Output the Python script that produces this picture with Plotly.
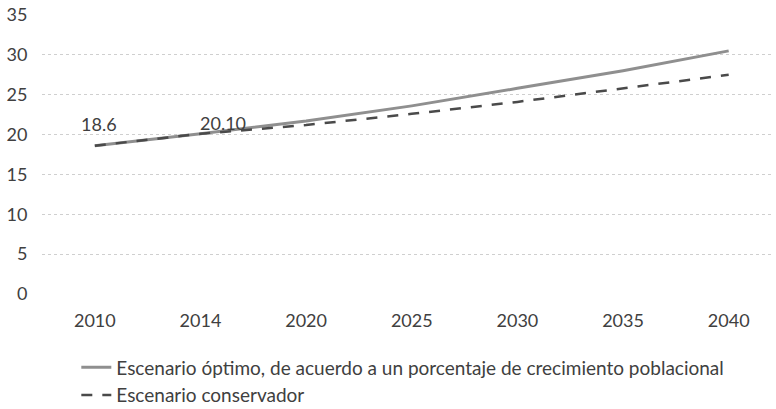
import plotly.graph_objects as go

years = ["2010", "2014", "2020", "2025", "2030", "2035", "2040"]
optimo = [18.6, 20.1, 21.7, 23.6, 25.8, 28.0, 30.5]
conservador = [18.6, 20.1, 21.2, 22.6, 24.1, 25.8, 27.5]
label_idx = [0, 1]
label_vals = [18.6, 20.1]
label_texts = ["18.6", "20.10"]
y_ticks = [0, 5, 10, 15, 20, 25, 30, 35]

name_opt = "Escenario óptimo, de acuerdo a un porcentaje de crecimiento poblacional"
name_con = "Escenario conservador"

FONT = "Lato"
TXT = "#404040"

fig = go.Figure()
fig.add_trace(go.Scatter(
    x=years, y=optimo, mode="lines", name=name_opt, legendgroup="a",
    line=dict(color="#8f8f8f", width=3),
))
fig.add_trace(go.Scatter(
    x=years, y=conservador, mode="lines", name=name_con, legendgroup="b",
    line=dict(color="#4a4a4a", width=2.5, dash="11px,10px"),
))

shifts = [(4, 22), (23, 11)]
for xi, yv, txt, (dx, dy) in zip(label_idx, label_vals, label_texts, shifts):
    fig.add_annotation(x=xi, y=yv, xref="x", yref="y", text=txt, showarrow=False,
                       xshift=dx, yshift=dy,
                       font=dict(family=FONT, size=18, color=TXT))

fig.update_layout(
    width=776, height=409,
    margin=dict(l=42, r=4, t=15, b=115, autoexpand=False),
    paper_bgcolor="white", plot_bgcolor="white",
    font=dict(family=FONT, size=18, color=TXT),
    showlegend=True,
    legend=dict(
        orientation="v",
        x=0.047, xanchor="left", y=-0.195, yanchor="top",
        font=dict(family=FONT, size=19, color=TXT),
        tracegroupgap=0, itemwidth=30,
        bgcolor="rgba(0,0,0,0)",
    ),
    xaxis=dict(
        type="category", range=[-0.5, 6.41],
        showgrid=False, zeroline=False, showline=False,
        ticks="outside", ticklen=10, tickcolor="rgba(0,0,0,0)",
        tickangle=0,
        tickfont=dict(family=FONT, size=18, color=TXT),
    ),
    yaxis=dict(
        range=[0, 35], tickvals=y_ticks,
        showgrid=True, gridcolor="#cfcfcf", griddash="dot", gridwidth=1,
        zeroline=False, showline=False,
        ticks="outside", ticklen=10, tickcolor="rgba(0,0,0,0)",
        tickfont=dict(family=FONT, size=18, color=TXT),
    ),
)

fig.write_html("out.html", config={"displayModeBar": False},
               post_script="document.body.style.margin='0';document.body.style.padding='0';")
